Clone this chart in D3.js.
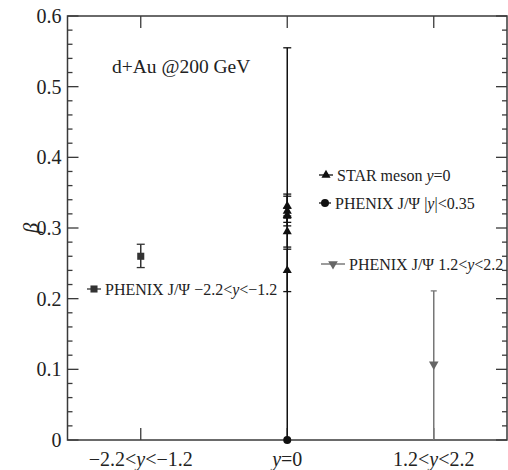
<!DOCTYPE html>
<html>
<head>
<meta charset="utf-8">
<script src="https://cdn.jsdelivr.net/npm/d3@7"></script>
<style>
  body { margin: 0; background: #fff; }
</style>
</head>
<body>
<div id="chart"></div>
<script>
// Rapidity bins (x categories), written as [before, italic y, after]
const categories = [["\u22122.2<", "y", "<\u22121.2"], ["", "y", "=0"], ["1.2<", "y", "<2.2"]];
const yTicks = [0, 0.1, 0.2, 0.3, 0.4, 0.5, 0.6];

// STAR meson at y=0: beta and symmetric errors
const starBeta = [0.331, 0.324, 0.318, 0.295, 0.240];
const starErr  = [0.017, 0.021, 0.010, 0.022, 0.030];

// PHENIX J/Psi points: [category, beta, lower, upper]
const phenixMid  = [1, 0.0, 0.0, 0.555];
const phenixBack = [0, 0.260, 0.244, 0.277];
const phenixFwd  = [2, 0.107, 0.0, 0.211];

const width = 508, height = 470;
const margin = { top: 16, right: 1, bottom: 30, left: 67.5 };

const svg = d3.select("#chart").append("svg")
    .attr("width", width)
    .attr("height", height)
    .attr("font-family", "'Liberation Serif', 'Times New Roman', 'DejaVu Serif', serif");

const x = d3.scaleLinear().domain([-0.5, 2.5]).range([margin.left, width - margin.right]);
const y = d3.scaleLinear().domain([0, 0.6]).range([440, margin.top]);

const axisColor = "#3a3a3a";

// Frame
svg.append("rect")
    .attr("x", x(-0.5)).attr("y", y(0.6))
    .attr("width", x(2.5) - x(-0.5)).attr("height", y(0) - y(0.6))
    .attr("fill", "none").attr("stroke", axisColor).attr("stroke-width", 1.5);

// Y ticks, inward on both sides
const minor = d3.range(0, 0.601, 0.02);
minor.forEach(v => {
    const major = Math.abs(v * 10 - Math.round(v * 10)) < 1e-6;
    const len = major ? 11 : 5;
    svg.append("line").attr("x1", x(-0.5)).attr("x2", x(-0.5) + len)
        .attr("y1", y(v)).attr("y2", y(v)).attr("stroke", axisColor).attr("stroke-width", 1.3);
    svg.append("line").attr("x1", x(2.5)).attr("x2", x(2.5) - len)
        .attr("y1", y(v)).attr("y2", y(v)).attr("stroke", axisColor).attr("stroke-width", 1.3);
});

svg.append("g").selectAll("text")
    .data(yTicks)
    .join("text")
    .attr("x", x(-0.5) - 6)
    .attr("y", d => y(d) + 7)
    .attr("text-anchor", "end")
    .attr("font-size", 20)
    .attr("fill", "#222")
    .text(d => d === 0 ? "0" : d3.format(".1f")(d));

// X ticks (bottom and top)
categories.forEach((c, i) => {
    svg.append("line").attr("x1", x(i)).attr("x2", x(i))
        .attr("y1", y(0)).attr("y2", y(0) - 12).attr("stroke", axisColor).attr("stroke-width", 1.3);
    svg.append("line").attr("x1", x(i)).attr("x2", x(i))
        .attr("y1", y(0.6)).attr("y2", y(0.6) + 12).attr("stroke", axisColor).attr("stroke-width", 1.3);
    const t = svg.append("text")
        .attr("x", x(i)).attr("y", 466)
        .attr("text-anchor", "middle")
        .attr("font-size", 20)
        .attr("fill", "#222");
    t.append("tspan").text(c[0]);
    t.append("tspan").attr("font-style", "italic").text(c[1]);
    t.append("tspan").text(c[2]);
});

// Y label
svg.append("text")
    .attr("transform", `translate(38,${y(0.3)}) rotate(-90)`)
    .attr("text-anchor", "middle")
    .attr("font-size", 21)
    .attr("font-style", "italic")
    .attr("fill", "#222")
    .text("\u03b2");

// Annotation
svg.append("text")
    .attr("x", 112).attr("y", 73)
    .attr("font-size", 19.5)
    .attr("fill", "#222")
    .text("d+Au @200 GeV");

function errBar(cx, lo, hi, color, cap) {
    svg.append("line").attr("x1", cx).attr("x2", cx)
        .attr("y1", y(lo)).attr("y2", y(hi))
        .attr("stroke", color).attr("stroke-width", 1.5);
    [lo, hi].forEach(v => {
        if (v <= 0) return;
        svg.append("line").attr("x1", cx - cap).attr("x2", cx + cap)
            .attr("y1", y(v)).attr("y2", y(v))
            .attr("stroke", color).attr("stroke-width", 1.3);
    });
}

const triUp = d3.symbol().type(d3.symbolTriangle).size(36);
const triDown = d3.symbol().type(d3.symbolTriangle).size(40);
const circ = d3.symbol().type(d3.symbolCircle).size(50);
const sq = d3.symbol().type(d3.symbolSquare).size(50);

// PHENIX |y|<0.35
errBar(x(phenixMid[0]), phenixMid[2], phenixMid[3], "#111", 4);
svg.append("path").attr("d", circ)
    .attr("transform", `translate(${x(phenixMid[0])},${y(phenixMid[1])})`)
    .attr("fill", "#111");

// STAR mesons
starBeta.forEach((b, i) => {
    errBar(x(1), b - starErr[i], b + starErr[i], "#111", 4);
});
svg.append("g").selectAll("path")
    .data(starBeta)
    .join("path")
    .attr("d", triUp)
    .attr("transform", d => `translate(${x(1)},${y(d)})`)
    .attr("fill", "#111");

// PHENIX backward
errBar(x(phenixBack[0]), phenixBack[2], phenixBack[3], "#333", 4);
svg.append("path").attr("d", sq)
    .attr("transform", `translate(${x(phenixBack[0])},${y(phenixBack[1])})`)
    .attr("fill", "#333");

// PHENIX forward (grey)
errBar(x(phenixFwd[0]), phenixFwd[2], phenixFwd[3], "#777", 3);
svg.append("path").attr("d", triDown)
    .attr("transform", `translate(${x(phenixFwd[0])},${y(phenixFwd[1])}) rotate(180)`)
    .attr("fill", "#666");

// Legend entries
function legend(lx, ly, lw, sym, rot, color, parts) {
    svg.append("line").attr("x1", lx - lw).attr("x2", lx + lw)
        .attr("y1", ly).attr("y2", ly).attr("stroke", color).attr("stroke-width", 1.3);
    svg.append("path").attr("d", sym)
        .attr("transform", `translate(${lx},${ly}) rotate(${rot})`)
        .attr("fill", color);
    const t = svg.append("text")
        .attr("x", lx + lw + 4).attr("y", ly + 5.5)
        .attr("font-size", 16)
        .attr("fill", "#222");
    parts.forEach(p => t.append("tspan").attr("font-style", p[1] ? "italic" : "normal").text(p[0]));
}

legend(326, 175, 7, triUp, 0, "#111", [["STAR meson ", 0], ["y", 1], ["=0", 0]]);
legend(325, 203, 6, circ, 0, "#111", [["PHENIX J/\u03a8 |", 0], ["y", 1], ["|<0.35", 0]]);
legend(333, 264, 12, triDown, 180, "#666", [["PHENIX J/\u03a8 1.2<", 0], ["y", 1], ["<2.2", 0]]);
legend(94, 289, 7, sq, 0, "#333", [["PHENIX J/\u03a8 \u22122.2<", 0], ["y", 1], ["<\u22121.2", 0]]);
</script>
</body>
</html>
